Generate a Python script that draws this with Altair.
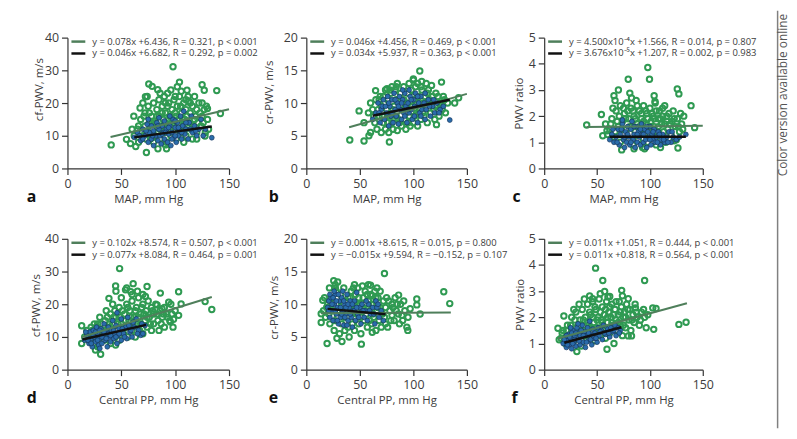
import altair as alt
import pandas as pd

# ---------------- data ----------------
# Panel a: MAP vs cf-PWV
A_GREEN = [(98,31.1),(40.6,7.2),(73.3,4.9),(75.5,25.8),(83.8,24.1),(78.6,25.1),(104,26.4),(125,25.6),(127,23.9),
           (138.6,23.8),(142,16.8),(130,18.3),(125,20),(54.8,8.9),(63.4,6.7),(58.5,7.6),(61.6,16),(67.4,18.5),
           (72.4,21.9),(90.9,20),(105.6,23.6),(111,23.9),(112.5,20.6),(100,22),(90.9,7.2),(127.7,9.9),
           (65,12),(68,15),(70,10),(72,13),(72,17),(74,11),(75,19),(76,14),(77,9),(78,16),(79,12),(80,20),(80,8),
           (82,14),(83,18),(84,11),(85,21),(85,16),(86,9),(87,13),(88,19),(89,15),(90,11),(90,22),(91,17),(92,8),
           (93,13),(94,20),(95,16),(96,10),(97,18),(98,14),(99,21),(100,12),(100,17),(101,9),(102,19),(103,15),
           (104,22),(105,11),(106,17),(107,13),(108,20),(109,15),(110,10),(110,18),(112,22),(113,14),(114,17),
           (115,12),(116,19),(118,15),(120,11),(120,18),(122,20),(124,13),(125,16),(127,18),(128,11),(130,15),
           (62,10),(66,8),(60,12),(70,20),(74,22),(96,24),(102,25),(118,22),(84,6),(92,6),(108,8),(116,9),(120,9),
           (66,13),(69,11),(71,16),(73,9),(76,17),(79,14),(81,10),(83,16),(86,12),(88,17),(91,14),(93,19),(95,11),
           (97,15),(99,13),(101,16),(103,12),(105,19),(107,15),(109,12),(111,16),(114,20),(117,13),(119,16),
           (121,14),(123,17),(126,14),(129,19),(131,12),(86,23),(93,23),(110,21)]
A_BLUE = [(62,9.5),(65,11),(68,8.5),(70,12),(72,10),(74,13.5),(75,8),(76,11),(78,9),(78,13),(80,7),(80,11.5),
          (82,10),(83,14),(84,8.5),(85,12),(86,10),(87,7.5),(88,13),(89,11),(90,9),(90,14.5),(92,12),(93,8),
          (94,10.5),(95,13),(96,7),(97,11),(98,15),(99,9.5),(100,12.5),(101,8),(102,14),(103,10),(104,11.5),
          (105,16),(106,9),(107,13),(108,17.5),(109,10.5),(110,12),(112,9),(113,14),(115,16),(116,11),(118,13),
          (120,10),(122,12),(124,15),(126,10),(128,12),(134,9.4),(75,15),(70,9),(95,16),
          (67,10),(73,11.5),(79,10),(84,13),(88,10.5),(91,11),(94,12.5),(97,9),(100,10),(103,12.5),(106,11),
          (110,14),(114,12),(119,11.5),(85,15.5),(100,14.5)]
A_GLINE_X, A_GLINE_Y = [40, 150], [9.6, 18.1]
A_BLINE_X, A_BLINE_Y = [62, 134], [9.5, 12.8]

# Panel b: MAP vs cr-PWV
B_GREEN = [(40.6,4.35),(53.9,4.2),(58.5,5.0),(77.6,4.05),(64.7,11.9),(75.4,12.2),(84,12.5),(106,14.9),(100,13.7),
           (107.8,13.3),(117,12.7),(126.3,13.2),(138.6,10),(142.3,10.8),(121.6,6.7),(53.9,7.0),(49.3,8.8),(60,5.5),
           (62,9),(64,7),(65,10.5),(66,6),(68,8),(70,9.5),(70,5.5),(72,11),(72,7),(74,6),(75,9),(76,10.5),(77,5.5),
           (78,8),(79,11.5),(80,7),(81,6),(82,9.5),(83,12),(84,8),(85,5.8),(86,10.5),(87,7),(88,11.5),(89,6.5),
           (90,9),(91,12.5),(92,7.5),(93,6),(94,10),(95,11.5),(96,8),(97,6.5),(98,12),(99,9.5),(100,7),(101,10.5),
           (102,12.5),(103,8.5),(104,6.5),(105,11),(106,9),(107,7.5),(108,12),(109,10),(110,8),(111,11),(112,9.5),
           (113,7),(114,12),(115,10.5),(116,8.5),(118,11),(119,9),(120,7.5),(121,11.5),(122,9.5),(124,8),(125,10),
           (127,9),(128,11),(130,8.5),(132,10),(58,8.5),(60,10),(100,13.5),(96,13),(80,12.5),(85,13),
           (63,8),(67,9),(69,11),(71,8),(73,10),(76,7),(78,12),(81,9),(84,10.5),(86,7.5),(88,9.5),(91,10.5),
           (93,8.5),(95,7),(97,9.5),(99,11),(101,8),(103,10.5),(105,8.5),(107,12.5),(109,8.5),(111,10),
           (113,11.5),(117,10),(120,9.5),(123,11),(126,9.5),(129,10.5),(68,10.5),(74,12),(104,13),(112,13)]
B_BLUE = [(62,7.5),(65,8.5),(67,10),(69,7),(70,9),(72,10.5),(73,7.5),(75,8.5),(76,11),(77,6.5),(78,9.5),(79,8),
          (80,10.5),(81,7),(82,11.5),(83,9),(84,8),(85,10),(86,6.8),(87,11),(88,9),(89,7.5),(90,10.5),(91,8.5),
          (92,11.5),(93,9.5),(94,7),(95,10),(96,8.5),(97,11),(98,9),(99,7.5),(100,10.5),(101,8),(102,11.5),
          (103,9.5),(104,7),(105,10),(106,8.5),(107,11),(108,9),(110,10),(111,7.5),(112,9),(114,10.5),(116,8),
          (118,9.5),(120,8.5),(122,10),(125,9),(128,9.5),(134,7.4),(90,12),(96,12),
          (68,8.5),(71,9.5),(74,9.5),(77,10),(80,8.5),(83,10.5),(86,9.5),(89,10),(92,8),(95,9),(98,10.5),
          (101,9.5),(104,11),(107,8),(111,11.5),(115,9.5),(119,10.5),(124,8.5)]
B_GLINE_X, B_GLINE_Y = [40, 150], [6.3, 11.4]
B_BLINE_X, B_BLINE_Y = [62, 134], [8.05, 10.5]

# Panel c: MAP vs PWV ratio
C_GREEN = [(98,3.86),(99.6,3.41),(79.5,3.41),(70.2,3.0),(81,2.88),(82.6,2.69),(66,2.78),(104,2.78),(104.8,2.56),
           (125.9,3.04),(127.4,2.85),(138.9,2.4),(142.3,1.56),(40.2,1.66),(54.1,2.06),(55.4,1.25),(59.4,1.44),
           (73.3,0.71),(126.5,0.78),(122.8,1.06),
           (62,1.5),(64,1.9),(66,1.2),(68,2.2),(70,1.6),(72,1.0),(72,2.4),(74,1.8),(75,1.3),(76,2.1),(78,1.5),
           (78,2.5),(80,1.1),(80,1.9),(82,2.3),(83,1.6),(84,0.9),(85,2.0),(86,1.4),(87,2.6),(88,1.7),(89,1.1),
           (90,2.2),(91,1.5),(92,1.9),(93,0.8),(94,2.4),(95,1.3),(96,1.7),(97,2.1),(98,1.0),(99,1.5),(100,2.3),
           (101,1.8),(102,1.2),(103,2.0),(104,1.6),(105,2.5),(106,0.9),(107,1.4),(108,1.9),(109,2.2),(110,1.1),
           (111,1.7),(112,2.0),(113,1.4),(114,2.4),(115,1.0),(116,1.8),(117,1.5),(118,2.1),(120,1.3),(121,1.8),
           (122,2.2),(124,1.6),(125,1.1),(126,1.9),(128,1.4),(130,1.7),(132,2.0),(67,2.6),(58,1.7),(60,1.3),
           (85,0.75),(95,0.75),(110,0.8),
           (63,1.7),(65,2.3),(67,1.4),(69,1.8),(71,2.0),(73,1.5),(75,2.3),(77,1.9),(79,2.2),(81,1.6),(84,2.2),
           (86,1.9),(88,2.4),(90,1.6),(92,2.1),(94,1.8),(96,2.2),(98,1.9),(100,1.6),(102,2.1),(104,1.9),
           (106,2.2),(108,1.6),(110,1.9),(112,2.3),(114,1.7),(116,2.0),(119,1.7),(123,1.9),(127,1.6),(129,2.1),(131,1.5)]
C_BLUE = [(62,1.1),(64,1.3),(66,1.0),(68,1.2),(70,1.5),(71,0.9),(72,1.3),(74,1.7),(75,1.1),(76,0.8),(77,1.4),
          (78,1.0),(79,1.6),(80,1.2),(81,0.9),(82,1.5),(83,1.8),(84,1.1),(85,1.3),(86,0.8),(87,1.6),(88,1.0),
          (89,1.4),(90,1.2),(91,0.9),(92,1.7),(93,1.3),(94,1.0),(95,1.5),(96,1.1),(97,0.8),(98,1.4),(99,1.2),
          (100,1.6),(101,0.9),(102,1.3),(103,1.1),(104,1.5),(105,1.0),(106,1.2),(108,1.4),(110,0.9),(111,1.1),
          (112,1.3),(114,1.0),(116,1.2),(118,1.4),(120,1.0),(122,1.2),(125,1.1),(128,1.2),(134,1.3),(74,1.85),
          (65,1.5),(69,1.0),(73,1.5),(76,1.2),(79,1.3),(82,1.0),(85,1.6),(88,1.3),(91,1.5),(94,1.3),(97,1.6),
          (100,1.1),(103,1.4),(107,1.0),(109,1.3),(113,1.1),(117,1.0),(121,1.4)]
C_GLINE_X, C_GLINE_Y = [40, 150], [1.58, 1.63]
C_BLINE_X, C_BLINE_Y = [62, 134], [1.21, 1.21]

# Panel d: Central PP vs cf-PWV
D_GREEN = [(48.4,30.9),(44.7,25.6),(53.9,24.4),(61,26.3),(58.8,23.8),(73.9,25.4),(72.4,22.4),(86.2,23.4),
           (103.2,23.8),(105.5,20.1),(103.2,16.6),(127.8,20.8),(134,18.4),(38.5,21.8),(13.2,13.4),(13.2,8.0),
           (30.8,4.7),(44.7,7.5),(95.5,14.6),(98.5,15.4),(87.8,18.6),(83.2,19.8),(94,20.6),
           (16,10),(18,12),(20,9),(22,13),(24,11),(26,8),(28,14),(30,10),(30,16),(32,12),(34,9),(35,15),(36,18),
           (38,11),(38,13),(40,17),(40,8),(42,14),(42,20),(44,10),(45,16),(46,12),(48,19),(48,9),(50,14),(50,22),
           (52,11),(53,17),(54,13),(55,20),(56,10),(57,15),(58,18),(60,12),(60,21),(62,16),(63,10),(64,19),
           (65,14),(66,22),(67,12),(68,17),(70,20),(70,11),(72,15),(73,18),(74,13),(75,21),(76,16),(78,12),
           (78,19),(80,17),(80,14),(82,20),(84,15),(85,12),(86,18),(88,16),(90,19),(90,13),(92,17),(95,15),
           (96,20),(98,13),(100,18),(45,24),(55,25),(65,24),(35,12),(28,7),(26,6),
           (19,11),(21,10),(23,12),(25,14),(27,9),(29,12),(31,14),(33,11),(35,10),(37,16),(39,14),(41,11),
           (43,16),(44,18),(47,14),(49,16),(51,18),(52,13),(54,15),(56,19),(58,13),(59,16),(61,14),(63,18),
           (66,16),(68,14),(69,19),(71,17),(74,16),(77,14),(79,18),(83,17),(87,14),(89,17),(93,16),(97,17),(60,23),(70,23)]
D_BLUE = [(16,9),(18,10.5),(20,8),(21,11.5),(22,9.5),(23,7),(24,12),(25,10),(26,8.5),(27,13),(28,11),(29,7.5),
          (30,9.5),(31,12.5),(32,8),(33,10.5),(34,14),(35,9),(36,11.5),(37,7),(38,13),(39,10),(40,8.5),(41,12),
          (42,15),(43,9.5),(44,11),(45,13.5),(46,8),(47,10.5),(48,12.5),(50,9),(50,15.5),(52,11),(54,13),
          (55,9.5),(56,16),(58,11.5),(60,10),(62,13),(64,15.5),(66,12),(68,10.5),(70,11),(72,13.5),(30,6.5),(46,17.4),
          (17,11.5),(19,9),(22,8),(24,10.5),(26,11.5),(28,9),(30,12),(32,10),(34,11.5),(36,9.5),(38,11),(40,10.5),
          (43,12),(45,10),(48,11),(51,12.5),(53,10),(57,13.5),(59,12),(61,14.5),(65,11),(69,14)]
D_GLINE_X, D_GLINE_Y = [13, 134], [9.9, 22.2]
D_BLINE_X, D_BLINE_Y = [14, 73], [9.2, 13.7]

# Panel e: Central PP vs cr-PWV
E_GREEN = [(73,14.7),(25.6,13.6),(29.3,13.4),(27.1,12.5),(21.6,12.5),(15.4,10.6),(13.9,8.54),(13.9,7.2),(19.4,4.0),
           (28.6,4.8),(33.3,4.3),(51.4,3.9),(61.6,5.7),(61.6,11.3),(60,12.9),(52.4,12.8),(86.2,11.4),(93.9,6.5),
           (94.8,6.0),(103.2,10.8),(103.2,9.9),(106.3,8.5),(128.4,11.9),(134,10.1),(80,8.3),(97,9.3),(89.3,8.3),
           (16,9),(18,8),(20,10),(22,7),(24,11),(25,9),(26,6),(28,12),(29,8),(30,10),(31,5.5),(32,11.5),(33,7),
           (34,9),(35,12.5),(36,6),(37,10.5),(38,8),(39,11),(40,5),(41,9.5),(42,12),(43,7),(44,10),(45,6),
           (46,11.5),(47,8.5),(48,12.5),(49,7),(50,10),(51,5.5),(52,9),(53,11),(54,7.5),(55,12),(56,8.5),
           (57,6.5),(58,10.5),(59,9),(60,11.5),(61,7),(62,8.5),(63,10),(64,12),(65,6),(66,9),(67,11),(68,7.5),
           (69,9.5),(70,6.5),(72,10.5),(73,8),(74,9.5),(75,11),(76,6.5),(78,9),(80,10),(82,7.5),(84,9),(86,8.5),
           (88,10),(90,7.5),(92,9),(95,8),(27,13),(45,13),(58,13),
           (17,11),(19,9.5),(21,8.5),(23,10),(25,10.5),(27,7.5),(29,11),(31,9),(33,10),(35,8),(37,9),(39,6.5),
           (41,11),(43,9),(45,8),(47,10),(49,11),(51,8),(53,9.5),(55,10),(57,11.5),(59,7.5),(61,10),(63,8),
           (65,11),(67,9.5),(69,12),(71,8.5),(74,7),(77,10.5),(79,7.5),(81,9.5),(83,11),(85,10),(87,7),(91,10.5),
           (44,12.5),(66,12.5)]
E_BLUE = [(20,9.5),(21,10.5),(22,8),(23,11),(24,9),(25,7.5),(26,10),(27,11.5),(28,8.5),(29,9.5),(30,7),
          (31,10.5),(32,8),(33,11),(34,9),(35,6.8),(36,10),(37,8.5),(38,11.5),(39,7.5),(40,9.5),(41,10.5),
          (42,8),(43,6.5),(44,9),(45,10.5),(46,7.5),(47,11.8),(48,8.5),(50,9.5),(51,7),(52,10),(54,8),(55,9),
          (57,7.5),(58,10),(60,8.5),(62,9.5),(64,7),(65,10.5),(66,9.5),(68,8),(70,9),(72,7.5),(26,12),(34,12),(38,6.8),
          (21,9),(22,11.5),(24,10),(25,11),(27,9),(28,10.5),(29,7.5),(30,11.5),(32,9.5),(33,8.5),(35,10.5),(36,8),
          (37,9.5),(39,10),(41,8.5),(43,10),(45,9),(47,9.5),(49,8),(53,9),(56,10.5),(59,9),(63,8.5),(67,10)]
E_GLINE_X, E_GLINE_Y = [14, 135], [8.63, 8.75]
E_BLINE_X, E_BLINE_Y = [20, 74], [9.29, 8.48]

# Panel f: Central PP vs PWV ratio
F_GREEN = [(48.6,3.88),(55.4,3.41),(95,3.41),(57.2,2.99),(60.3,2.78),(43,2.82),(45.8,2.71),(73.3,3.03),(74,2.82),
           (79.5,2.71),(18.6,2.05),(13,1.58),(14.2,1.14),(96.5,1.6),(103.6,1.54),(102.7,2.36),(105.8,2.34),
           (127.4,1.73),(134.2,1.81),(59.4,0.78),(30.9,0.69),(79.5,1.29),(82.6,1.29),(86.3,2.36),
           (16,1.2),(18,1.5),(20,1.0),(22,1.7),(24,1.3),(26,2.0),(28,1.1),(30,1.6),(30,2.2),(32,1.4),(34,1.9),
           (35,0.9),(36,2.3),(38,1.5),(39,2.0),(40,1.2),(41,2.5),(42,1.7),(44,2.1),(45,1.4),(46,2.6),(47,1.8),
           (48,1.1),(49,2.3),(50,1.6),(51,2.0),(52,2.7),(53,1.3),(54,1.9),(55,2.4),(56,1.5),(57,2.1),(58,1.2),
           (59,2.6),(60,1.8),(61,2.2),(62,1.4),(63,2.0),(64,2.5),(65,1.7),(66,1.0),(67,2.3),(68,1.9),(69,1.5),
           (70,2.1),(71,2.6),(72,1.7),(73,2.4),(74,1.3),(75,2.0),(76,2.2),(77,1.6),(78,2.5),(80,1.9),(81,2.3),
           (82,1.5),(84,2.1),(85,1.8),(86,2.5),(88,2.0),(90,1.7),(92,2.2),(95,2.0),(98,2.1),(38,2.7),(33,2.5),(28,2.3),
           (17,1.4),(19,1.1),(21,1.5),(23,1.2),(25,1.7),(27,1.3),(29,1.9),(31,1.2),(33,1.7),(35,1.5),(37,1.9),
           (39,1.3),(41,1.8),(43,2.2),(44,1.6),(46,2.0),(48,2.4),(50,1.9),(52,1.5),(53,2.2),(55,1.8),(57,1.6),
           (58,2.3),(60,2.0),(62,2.4),(64,1.8),(66,2.1),(68,2.6),(70,1.8),(72,2.2),(75,1.7),(77,2.0),(79,2.3),
           (83,1.9),(87,2.2),(91,1.9),(94,2.3),(53,2.9),(62,2.8)]
F_BLUE = [(18,1.0),(20,1.2),(21,0.85),(22,1.1),(23,1.35),(24,0.95),(25,1.2),(26,0.8),(27,1.5),(28,1.05),
          (29,1.3),(30,0.9),(31,1.6),(32,1.15),(33,1.4),(34,0.95),(35,1.25),(36,1.7),(37,1.05),(38,1.45),
          (39,0.85),(40,1.3),(41,1.6),(42,1.1),(43,1.85),(44,1.35),(45,0.95),(46,1.55),(47,1.2),(48,1.4),
          (50,1.05),(51,1.6),(52,1.3),(54,1.5),(55,1.15),(56,1.7),(58,1.35),(60,1.55),(62,1.25),(63,1.6),
          (65,1.45),(67,1.7),(68,1.3),(70,1.6),(72,1.5),(25,1.6),(32,1.75),
          (19,1.15),(21,1.3),(22,0.95),(24,1.25),(26,1.4),(27,1.0),(29,1.15),(30,1.4),(33,1.1),(34,1.3),
          (35,1.5),(37,1.3),(40,1.05),(42,1.4),(44,1.15),(46,1.3),(49,1.2),(53,1.45),(57,1.4),(61,1.4),(66,1.5),(71,1.4)]
F_GLINE_X, F_GLINE_Y = [13, 135], [1.19, 2.54]
F_BLINE_X, F_BLINE_Y = [19, 73], [1.03, 1.62]

X_TICKS = [0, 50, 100, 150]
X_TITLES = ["MAP, mm Hg", "MAP, mm Hg", "MAP, mm Hg", "Central PP, mm Hg", "Central PP, mm Hg", "Central PP, mm Hg"]
Y_TITLES = ["cf-PWV, m/s", "cr-PWV, m/s", "PWV ratio", "cf-PWV, m/s", "cr-PWV, m/s", "PWV ratio"]
Y_TICKS = [[0, 10, 20, 30, 40], [0, 5, 10, 15, 20], [0, 1, 2, 3, 4, 5],
           [0, 10, 20, 30, 40], [0, 5, 10, 15, 20], [0, 1, 2, 3, 4, 5]]
LETTERS = ["a", "b", "c", "d", "e", "f"]
LEGENDS = [
    ["y = 0.078x +6.436, R = 0.321, p < 0.001", "y = 0.046x +6.682, R = 0.292, p = 0.002"],
    ["y = 0.046x +4.456, R = 0.469, p < 0.001", "y = 0.034x +5.937, R = 0.363, p < 0.001"],
    ["y = 4.500x10\u207b\u2074x +1.566, R = 0.014, p = 0.807", "y = 3.676x10\u207b\u2075x +1.207, R = 0.002, p = 0.983"],
    ["y = 0.102x +8.574, R = 0.507, p < 0.001", "y = 0.077x +8.084, R = 0.464, p = 0.001"],
    ["y = 0.001x +8.615, R = 0.015, p = 0.800", "y = \u22120.015x +9.594, R = \u22120.152, p = 0.107"],
    ["y = 0.011x +1.051, R = 0.444, p < 0.001", "y = 0.011x +0.818, R = 0.564, p < 0.001"],
]
NOTE = "Color version available online"

# ---------------- styling ----------------
FONT = "Open Sans"
GREEN = "#2f9a52"
GLINE = "#4f7f5b"
BLUE = "#2a6cab"
BLUE_EDGE = "#16365e"
TXT = "#3c3c3c"
H = 132
WIDTHS = [163, 162, 160]
LETTER_DX = [-41, -38, -32, -41, -38, -33]
YTITLE_X = [-28, -37, -25, -31, -32, -24]
YTITLE_Y = [52, 55, 66, 67, 69, 66]


def panel(i, green, blue, glx, gly, blx, bly, width, extra=None):
    g = pd.DataFrame(green, columns=["x", "y"])
    b = pd.DataFrame(blue, columns=["x", "y"])
    gl = pd.DataFrame({"x": glx, "y": gly})
    bl = pd.DataFrame({"x": blx, "y": bly})
    yt = Y_TICKS[i]
    X = alt.X("x:Q", scale=alt.Scale(domain=[0, 150], nice=False, zero=False),
              axis=alt.Axis(values=X_TICKS, title=X_TITLES[i], titleY=31, titleBaseline="middle",
                            labelOverlap=False, labelFlush=False))
    Y = alt.Y("y:Q", scale=alt.Scale(domain=[0, yt[-1]], nice=False),
              axis=alt.Axis(values=yt, tickCount=len(yt), title=Y_TITLES[i],
                            titleX=YTITLE_X[i], titleY=YTITLE_Y[i], titleBaseline="middle",
                            labelOverlap=False, labelFlush=False, labelSeparation=0))
    layers = [
        alt.Chart(g).mark_point(shape="circle", filled=False, size=30, strokeWidth=2,
                                color=GREEN, opacity=1).encode(x=X, y=Y),
        alt.Chart(b).mark_circle(size=24, color=BLUE, stroke=BLUE_EDGE, strokeWidth=0.7,
                                 opacity=1).encode(x="x:Q", y="y:Q"),
        alt.Chart(gl).mark_line(color=GLINE, strokeWidth=2).encode(x="x:Q", y="y:Q"),
        alt.Chart(bl).mark_line(color="#111111", strokeWidth=2.5).encode(x="x:Q", y="y:Q"),
    ]
    for k, (txt, col) in enumerate(zip(LEGENDS[i], [GLINE, "#111111"])):
        yy = 4 + 12 * k
        layers.append(
            alt.Chart(pd.DataFrame({"t": [0]})).mark_rule(color=col, strokeWidth=2.5).encode(
                x=alt.value(4), x2=alt.value(18), y=alt.value(yy)))
        layers.append(
            alt.Chart(pd.DataFrame({"t": [txt]})).mark_text(
                align="left", baseline="middle", fontSize=9.5, font=FONT, color=TXT).encode(
                text="t:N", x=alt.value(25), y=alt.value(yy)))
    layers.append(
        alt.Chart(pd.DataFrame({"t": [LETTERS[i]]})).mark_text(
            align="left", baseline="alphabetic", fontSize=16, fontWeight="bold", font=FONT,
            color="#111111").encode(text="t:N", x=alt.value(LETTER_DX[i]), y=alt.value(H + 34)))
    if extra:
        layers += extra
    return alt.layer(*layers).properties(width=width, height=H)


note_layers = [
    alt.Chart(pd.DataFrame({"t": [0]})).mark_rule(color="#808080", strokeWidth=1.5).encode(
        x=alt.value(235.5), y=alt.value(-27), y2=alt.value(394)),
    alt.Chart(pd.DataFrame({"t": [NOTE]})).mark_text(
        angle=270, align="right", baseline="middle", fontSize=12, font=FONT, color="#555555").encode(
        text="t:N", x=alt.value(241), y=alt.value(-24)),
]

pa = panel(0, A_GREEN, A_BLUE, A_GLINE_X, A_GLINE_Y, A_BLINE_X, A_BLINE_Y, WIDTHS[0])
pb = panel(1, B_GREEN, B_BLUE, B_GLINE_X, B_GLINE_Y, B_BLINE_X, B_BLINE_Y, WIDTHS[1])
pc = panel(2, C_GREEN, C_BLUE, C_GLINE_X, C_GLINE_Y, C_BLINE_X, C_BLINE_Y, WIDTHS[2], note_layers)
pd_ = panel(3, D_GREEN, D_BLUE, D_GLINE_X, D_GLINE_Y, D_BLINE_X, D_BLINE_Y, WIDTHS[0])
pe = panel(4, E_GREEN, E_BLUE, E_GLINE_X, E_GLINE_Y, E_BLINE_X, E_BLINE_Y, WIDTHS[1])
pf = panel(5, F_GREEN, F_BLUE, F_GLINE_X, F_GLINE_Y, F_BLINE_X, F_BLINE_Y, WIDTHS[2])

chart = alt.concat(pa, pb, pc, pd_, pe, pf, columns=3,
                   spacing={"row": 71, "column": 78}, bounds="flush").properties(
    padding={"left": 19, "top": 0, "right": 0, "bottom": 0}
).configure_view(stroke=None).configure_axis(
    grid=False, domainColor="#333333", tickColor="#333333", labelColor="#3c3c3c",
    titleColor="#3c3c3c", labelFont=FONT, titleFont=FONT, labelFontSize=12.5, titleFontSize=11.5,
    titleFontWeight="normal", tickSize=6, labelPadding=3, labelFlush=False, labelOverlap=False,
    domainWidth=1.2, tickWidth=1.2
)

chart.save("out.html", embed_options={"renderer": "svg", "actions": False})
